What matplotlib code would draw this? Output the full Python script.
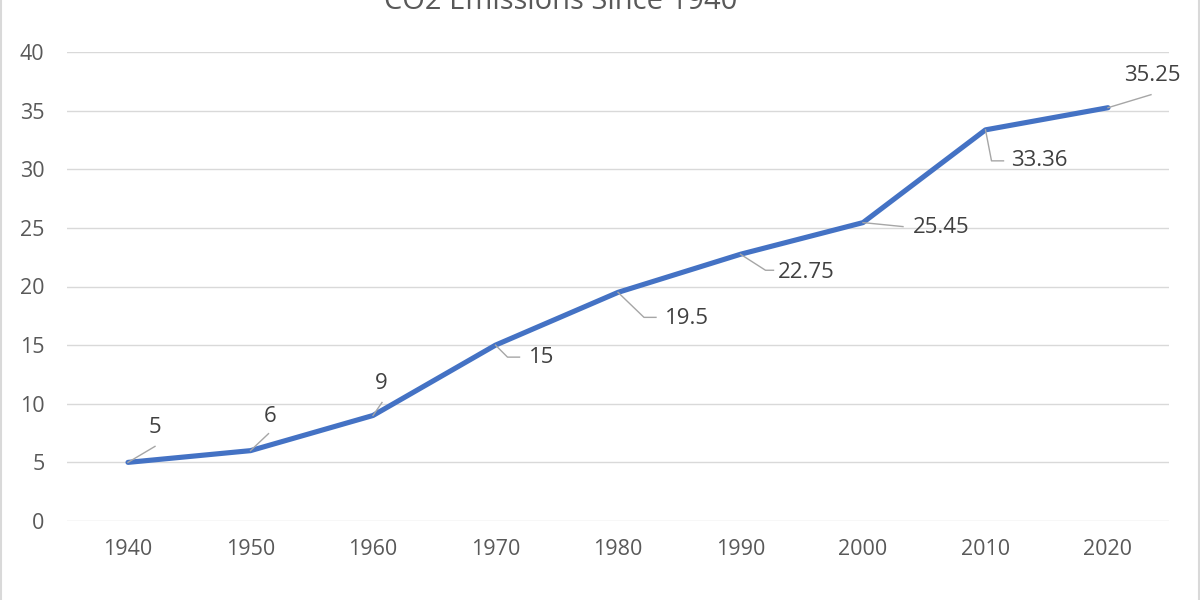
import matplotlib
matplotlib.use("Agg")
import matplotlib.pyplot as plt
from matplotlib.lines import Line2D
from matplotlib.patches import Rectangle
from matplotlib.transforms import IdentityTransform

years = ["1940", "1950", "1960", "1970", "1980", "1990", "2000", "2010", "2020"]
emissions = [5, 6, 9, 15, 19.5, 22.75, 25.45, 33.36, 35.25]
label_texts = ["5", "6", "9", "15", "19.5", "22.75", "25.45", "33.36", "35.25"]
yticks = [0, 5, 10, 15, 20, 25, 30, 35, 40]
title = "CO2 Emissions Since 1940"

# label layout (image-pixel offsets from point: leader vertices, text anchor, alignment)
label_layout = [
    ([(27, -16)], (27, -35), "center"),
    ([(18, -17)], (20, -34), "center"),
    ([(9, -13)], (8, -32), "center"),
    ([(12, 12), (24, 12)], (33, 12), "left"),
    ([(26, 25), (38, 25)], (47, 26), "left"),
    ([(25, 16), (33, 16)], (37, 18), "left"),
    ([(40, 4)], (50, 5), "left"),
    ([(6, 31), (18, 31)], (26, 31), "left"),
    ([(43, -13)], (44, -32), "center"),
]

W, H = 1200, 600
fig = plt.figure(figsize=(12, 6), dpi=100)
fig.patch.set_facecolor("white")
font = "Open Sans"
tick_color = "#595959"
label_color = "#404040"

ax = fig.add_axes([66.75 / W, (H - 521) / H, (1169.25 - 66.75) / W, (521 - 52) / H])
x = list(range(len(years)))
ax.plot(x, emissions, color="#4472C4", linewidth=3.7, solid_joinstyle="round",
        solid_capstyle="round", zorder=3)
ax.set_xlim(-0.5, len(years) - 0.5)
ax.set_ylim(0, 40)
ax.set_yticks(yticks)
ax.set_xticks(x)
ax.set_xticklabels(years)
ax.grid(axis="y", color="#D9D9D9", linewidth=1.0)
ax.set_axisbelow(True)
for s in ax.spines.values():
    s.set_visible(False)
ax.tick_params(axis="both", length=0, labelsize=15.5, labelcolor=tick_color)
ax.tick_params(axis="y", pad=16)
ax.tick_params(axis="x", pad=13)
for lab in ax.get_xticklabels() + ax.get_yticklabels():
    lab.set_fontfamily(font)

fig.canvas.draw()
for xi, yi, txt, (verts, tpos, ha) in zip(x, emissions, label_texts, label_layout):
    px, py = ax.transData.transform((xi, yi))
    xs = [px] + [px + dx for dx, dy in verts]
    ys = [py] + [py - dy for dx, dy in verts]
    fig.add_artist(Line2D(xs, ys, transform=IdentityTransform(), color="#A6A6A6",
                          linewidth=1.0, zorder=4))
    fig.text(px + tpos[0], py - tpos[1], txt, transform=IdentityTransform(),
             ha=ha, va="center", fontsize=16, color=label_color, family=font, zorder=5)

fig.text(561 / W, 1 - 9 / H, title, ha="center", va="baseline", fontsize=21,
         color=tick_color, family=font)

fig.add_artist(Rectangle((0.5 / W, -0.01), (W - 2) / W, 1.02, transform=fig.transFigure,
                         fill=False, edgecolor="#D9D9D9", linewidth=1.5))

fig.savefig("out.png", dpi=100, facecolor="white")
